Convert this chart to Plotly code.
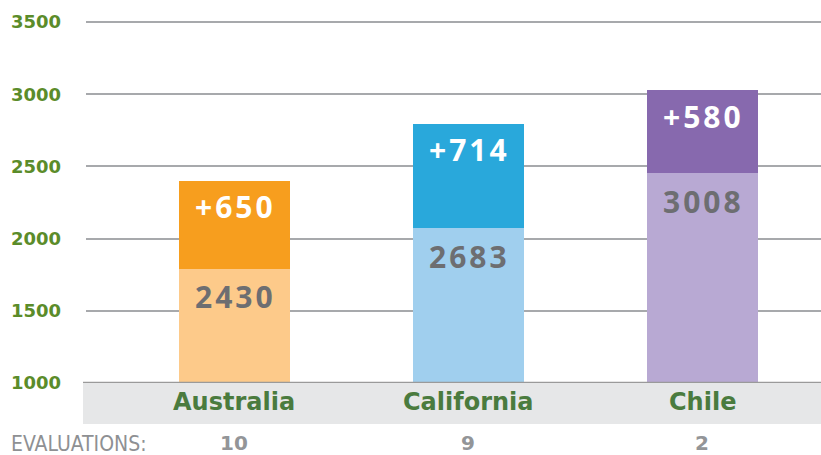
import plotly.graph_objects as go

# ---- data ----
regions = ["Australia", "California", "Chile"]
base_values = [1790, 2073, 2454]        # lighter lower segment (top value)
increments = [610, 721, 575]             # darker upper segment height
base_labels = ["2430", "2683", "3008"]
inc_labels = ["+650", "+714", "+580"]
evaluations = ["10", "9", "2"]
y_ticks = [1000, 1500, 2000, 2500, 3000, 3500]
eval_title = "EVALUATIONS:"

light_colors = ["#FDCA8A", "#A0CFEE", "#B8A9D3"]
dark_colors = ["#F79E1E", "#29A8DB", "#8769AE"]

W, H = 821, 455
ML, MR, MT, MB = 86, 0, 21, 72
plot_w = W - ML - MR
plot_h = H - MT - MB


def spaced(s):
    return "\u200a".join(s)


fig = go.Figure()
fig.add_trace(go.Bar(x=regions, y=base_values, marker=dict(color=light_colors, line=dict(width=0)),
                     width=0.474, hoverinfo="skip"))
fig.add_trace(go.Bar(x=regions, y=increments, marker=dict(color=dark_colors, line=dict(width=0)),
                     width=0.474, hoverinfo="skip"))

annotations = []
totals = [b + i for b, i in zip(base_values, increments)]
for r, b, t, bl, il, ev in zip(regions, base_values, totals, base_labels, inc_labels, evaluations):
    annotations.append(dict(x=r, y=b, xref="x", yref="y", text=spaced(bl), showarrow=False,
                            yanchor="middle", yshift=-28,
                            font=dict(family="Open Sans", size=30, color="#6D6E71", weight="bold")))
    annotations.append(dict(x=r, y=t, xref="x", yref="y", text=spaced(il), showarrow=False,
                            yanchor="middle", yshift=-26,
                            font=dict(family="Open Sans", size=30, color="#FFFFFF", weight="bold")))
    annotations.append(dict(x=r, y=0, xref="x", yref="paper", text=r, showarrow=False,
                            yanchor="middle", yshift=-19,
                            font=dict(family="DejaVu Sans", size=24, color="#4A7B3E", weight="bold")))
    annotations.append(dict(x=r, y=0, xref="x", yref="paper", text=ev, showarrow=False,
                            yanchor="middle", yshift=-60,
                            font=dict(family="DejaVu Sans", size=20, color="#939598", weight="bold")))

annotations.append(dict(x=(9 - ML) / plot_w, y=(H - MB - 444) / plot_h, xref="paper", yref="paper",
                        text=eval_title, showarrow=False,
                        xanchor="left", yanchor="middle",
                        font=dict(family="DejaVu Sans Condensed", size=21, color="#8E9093")))

shapes = [
    dict(type="rect", xref="paper", yref="paper", x0=-3 / plot_w, x1=1, y0=-41 / plot_h, y1=0,
         fillcolor="#E6E7E8", line=dict(width=0), layer="below"),
    dict(type="line", xref="paper", yref="y", x0=-3 / plot_w, x1=1, y0=1000, y1=1000,
         line=dict(color="#9A9A9A", width=2.5), layer="above"),
]

fig.update_layout(
    width=W, height=H,
    margin=dict(l=ML, r=MR, t=MT, b=MB),
    barmode="stack", bargap=0,
    showlegend=False,
    plot_bgcolor="white", paper_bgcolor="white",
    xaxis=dict(type="category", range=[-0.633, 2.508], showticklabels=False,
               showgrid=False, zeroline=False, showline=False),
    yaxis=dict(range=[1000, 3507], tickvals=y_ticks, ticktext=[str(v) for v in y_ticks],
               showgrid=True, gridcolor="#A7A9AC", gridwidth=2, zeroline=False, showline=False,
               ticks="", ticklabelstandoff=24,
               tickfont=dict(family="DejaVu Sans", size=18, color="#5B8C2A", weight="bold")),
    annotations=annotations,
    shapes=shapes,
)

fig.write_html("out.html", config={"displayModeBar": False},
               post_script="document.body.style.margin='0';document.body.style.overflow='hidden';")
